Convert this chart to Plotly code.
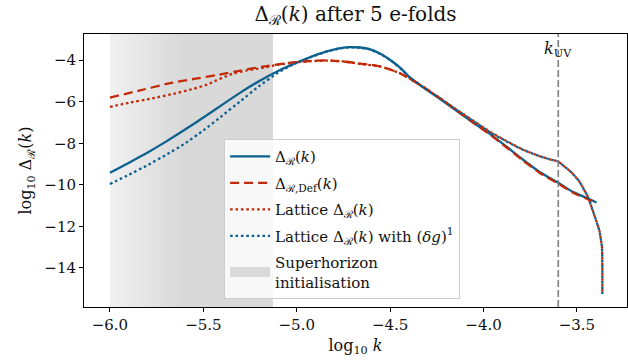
import numpy as np
import plotly.graph_objects as go

# ---- data: log10 k and log10 Delta_R(k) after 5 e-folds ----
logk_full = [-6.00, -5.90, -5.80, -5.70, -5.60, -5.50, -5.40, -5.30, -5.20, -5.10,
             -5.02, -4.93, -4.84, -4.78, -4.72, -4.66, -4.61, -4.55, -4.49,
             -4.44, -4.40, -4.32, -4.24, -4.15, -4.06, -3.97, -3.88, -3.79, -3.70,
             -3.59, -3.52, -3.45, -3.395]
delta_full = [-9.42, -8.95, -8.45, -7.92, -7.35, -6.76, -6.15, -5.55, -5.00, -4.52,
              -4.19, -3.86, -3.58, -3.44, -3.37, -3.39, -3.47, -3.70, -4.05,
              -4.42, -4.78, -5.33, -5.82, -6.40, -6.98, -7.52, -8.14, -8.78, -9.38,
              -9.96, -10.35, -10.62, -10.85]

logk_def = [-6.00, -5.85, -5.69, -5.55, -5.43, -5.30, -5.19, -5.10, -5.02, -4.93,
            -4.84, -4.75, -4.66, -4.60, -4.556, -4.50, -4.45, -4.40, -4.34, -4.24,
            -4.15, -4.06, -3.97, -3.88, -3.79, -3.70, -3.59, -3.52, -3.45, -3.395]
delta_def = [-5.80, -5.48, -5.13, -4.90, -4.72, -4.50, -4.32, -4.20, -4.11, -4.04,
             -4.01, -4.06, -4.17, -4.22, -4.30, -4.45, -4.62, -4.88, -5.18, -5.80,
             -6.38, -6.98, -7.55, -8.18, -8.82, -9.42, -10.00, -10.38, -10.66, -10.87]

logk_lat = [-6.00, -5.90, -5.78, -5.66, -5.55, -5.48, -5.43, -5.38, -5.34, -5.27,
            -5.19, -5.10, -5.02, -4.93, -4.84, -4.75, -4.66, -4.556, -4.50, -4.45,
            -4.40, -4.32, -4.24, -4.15, -4.06, -3.97, -3.88, -3.79, -3.70, -3.65,
            -3.60, -3.576, -3.53, -3.49, -3.44, -3.415, -3.38, -3.366, -3.364, -3.364]
delta_lat = [-6.25, -6.05, -5.85, -5.62, -5.37, -5.18, -4.97, -4.78, -4.64, -4.50,
             -4.38, -4.22, -4.12, -4.05, -4.02, -4.06, -4.18, -4.30, -4.45, -4.62,
             -4.86, -5.30, -5.78, -6.34, -6.88, -7.42, -7.88, -8.30, -8.62, -8.76,
             -8.88, -9.05, -9.40, -9.80, -10.60, -11.25, -12.20, -13.00, -14.00, -15.25]

logk_lat_dg = [-6.00, -5.90, -5.80, -5.70, -5.60, -5.50, -5.40, -5.30, -5.20, -5.10,
               -5.02, -4.93, -4.84, -4.78, -4.72, -4.66, -4.61, -4.55, -4.49,
               -4.44, -4.40, -4.32, -4.24, -4.15, -4.06, -3.97, -3.88, -3.79, -3.70,
               -3.65, -3.60, -3.576, -3.53, -3.49, -3.44, -3.415, -3.38, -3.366,
               -3.364, -3.364]
delta_lat_dg = [-9.96, -9.52, -9.06, -8.56, -8.02, -7.38, -6.68, -5.96, -5.24, -4.60,
                -4.21, -3.87, -3.59, -3.45, -3.38, -3.40, -3.48, -3.71, -4.06,
                -4.43, -4.80, -5.32, -5.80, -6.36, -6.90, -7.44, -7.90, -8.31, -8.62,
                -8.76, -8.88, -9.05, -9.40, -9.80, -10.60, -11.25, -12.20, -13.00,
                -14.00, -15.25]

K_UV = -3.6                      # log10 of the UV cutoff
SHADE_START, SHADE_FADE, SHADE_END = -6.0, -5.62, -5.13   # superhorizon band

x_ticks = [-6.0, -5.5, -5.0, -4.5, -4.0, -3.5]
y_ticks = [-14, -12, -10, -8, -6, -4]

BLUE = "#0b6190"
RED = "#c12a07"
FONT = "DejaVu Serif"
INK = "#111111"

fig = go.Figure()

# superhorizon band: fades in from the left edge, then flat grey
edges = np.linspace(SHADE_START, SHADE_END, 120)
centres = 0.5 * (edges[:-1] + edges[1:])
ramp = np.clip((centres - SHADE_START) / (SHADE_FADE - SHADE_START), 0, 1)
fig.add_trace(go.Heatmap(
    x=edges, y=[-20, 0], z=[ramp],
    colorscale=[[0, "#f1f1f1"], [1, "#d9d9d9"]],
    zmin=0, zmax=1, showscale=False, hoverinfo="skip", showlegend=False,
))

dot = "2.6px,2.8px"
fig.add_trace(go.Scatter(
    x=logk_full, y=delta_full, mode="lines", name="Δ<sub>ℛ</sub>(<i>k</i>)",
    line=dict(color=BLUE, width=2.3, shape="spline", smoothing=0.6),
    legendgroup="a",
))
fig.add_trace(go.Scatter(
    x=logk_def, y=delta_def, mode="lines", name="Δ<sub>ℛ,Def</sub>(<i>k</i>)",
    line=dict(color=RED, width=2.3, dash="9px,5px", shape="spline", smoothing=0.6),
    legendgroup="b",
))
fig.add_trace(go.Scatter(
    x=logk_lat, y=delta_lat, mode="lines", name="Lattice Δ<sub>ℛ</sub>(<i>k</i>)",
    line=dict(color=RED, width=2.3, dash=dot, shape="spline", smoothing=0.4),
    legendgroup="c",
))
fig.add_trace(go.Scatter(
    x=logk_lat_dg, y=delta_lat_dg, mode="lines",
    name="Lattice Δ<sub>ℛ</sub>(<i>k</i>) with (<i>δg</i>)<sup>1</sup>",
    line=dict(color=BLUE, width=2.3, dash=dot, shape="spline", smoothing=0.4),
    legendgroup="d",
))
# legend swatch for the shaded band (a thick grey stroke)
fig.add_trace(go.Scatter(
    x=[None], y=[None], mode="lines",
    line=dict(width=12, color="#d9d9d9"),
    name="Superhorizon<br>initialisation", legendgroup="e",
))

# UV cutoff
fig.add_vline(x=K_UV, line=dict(color="#7f7f7f", width=1.6, dash="7px,3px"))
fig.add_annotation(x=K_UV, y=-3.5, xref="x", yref="y",
                   text="<i>k</i><sub>UV</sub>", showarrow=False,
                   font=dict(family=FONT, size=16, color=INK))

axis_common = dict(
    showline=True, linecolor="black", linewidth=1, mirror=True,
    ticks="outside", ticklen=4, tickwidth=1, tickcolor="black",
    showgrid=False, zeroline=False,
    tickfont=dict(family=FONT, size=15, color=INK),
)

fig.update_layout(
    width=628, height=360,
    margin=dict(l=84, r=1, t=34, b=53),
    paper_bgcolor="white", plot_bgcolor="white",
    font=dict(family=FONT, size=15, color=INK),
    title=dict(text="Δ<sub>ℛ</sub>(<i>k</i>) after 5 e-folds",
               x=0.5, xref="paper", xanchor="center",
               y=1 - 14 / 360, yref="container", yanchor="middle",
               font=dict(family=FONT, size=20, color=INK)),
    xaxis=dict(range=[-6.139, -3.232], tickvals=x_ticks, tickformat=".1f",
               title=dict(text="log<sub>10</sub> <i>k</i>", standoff=6,
                          font=dict(family=FONT, size=16)),
               **axis_common),
    yaxis=dict(range=[-15.88, -2.74], tickvals=y_ticks,
               title=dict(text="log<sub>10</sub> Δ<sub>ℛ</sub>(<i>k</i>)", standoff=8,
                          font=dict(family=FONT, size=16)),
               **axis_common),
    legend=dict(x=0.258, y=0.615, xanchor="left", yanchor="top",
                bgcolor="rgba(255,255,255,0.8)", bordercolor="#cccccc", borderwidth=1,
                font=dict(family=FONT, size=15, color=INK),
                tracegroupgap=4, itemwidth=40),
)

fig.write_html("out.html")
